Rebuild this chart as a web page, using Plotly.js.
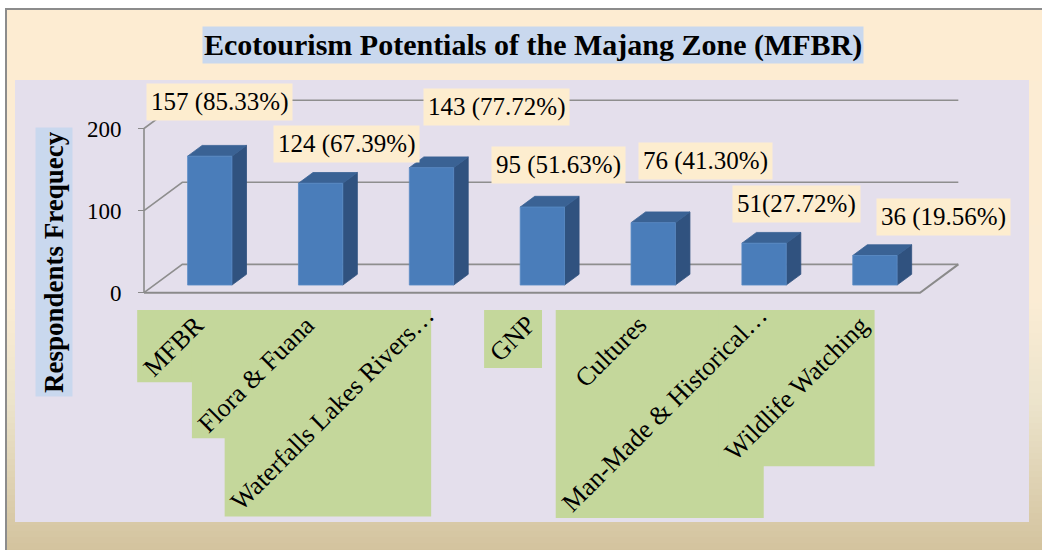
<!DOCTYPE html>
<html><head><meta charset="utf-8">
<script src="https://cdn.plot.ly/plotly-3.0.1.min.js"></script>
<style>html,body{margin:0;padding:0;background:#fff}</style>
</head><body><div id="chart" style="width:1042px;height:550px"></div>
<script>
// ---------- data ----------
const categories = ["MFBR", "Flora & Fuana", "Waterfalls Lakes Rivers…", "GNP", "Cultures", "Man-Made & Historical…", "Wildlife Watching"];
const frequencies = [157, 124, 143, 95, 76, 51, 36];
const labelTexts = ["157 (85.33%)", "124 (67.39%)", "143 (77.72%)", "95 (51.63%)", "76 (41.30%)", "51(27.72%)", "36 (19.56%)"];
const yTickValues = [0, 100, 200];
const chartTitle = "Ecotourism Potentials of the Majang Zone (MFBR)";
const yAxisTitle = "Respondents Frequecy";

// ---------- geometry / style (pixels) ----------
const W = 1042, H = 550;
const PXC = 110.86;          // px per category on the front plane
const PYU = 0.821;           // px per value unit
const frontLeft = 144, frontBottom = 292.7;
const plotL = 120, plotR = 1030, plotT = 78, plotB = 305;
const DXpx = 38.3, DYpx = 28.3;   // oblique depth of the floor
const F0 = 0.27, F1 = 0.65, HW = 0.2;
const SERIF = '"Liberation Serif", "Times New Roman", serif';
const CAT_FS = 26, LAB_FS = 25, TICK_FS = 23;
// manual nudges of the data labels (px, right / up) as placed in the original
const labelNudge = [[10, 54], [26, 39], [65, 61], [16, 42], [52, 62], [32, 39], [69, 39]];

const nCat = categories.length;
const xr = [-0.5 - (frontLeft - plotL) / PXC, -0.5 + (plotR - frontLeft) / PXC];
const yr = [-(plotB - frontBottom) / PYU, (frontBottom - plotT) / PYU];
const DX = DXpx / PXC, DY = DYpx / PYU;
const px = v => v / W, py = v => 1 - v / H;

// ---------- bar faces ----------
const front = {x: [], y: []}, topF = {x: [], y: []}, side = {x: [], y: []};
frequencies.forEach((v, i) => {
  const a = i - HW, b = i + HW;
  const ax = F0 * DX, ay = F0 * DY, bx = F1 * DX, by = F1 * DY;
  side.x.push(b + ax, b + bx, b + bx, b + ax, b + ax, null);
  side.y.push(ay, by, v + by, v + ay, ay, null);
  topF.x.push(a + ax, b + ax, b + bx, a + bx, a + ax, null);
  topF.y.push(v + ay, v + ay, v + by, v + by, v + ay, null);
  front.x.push(a + ax, b + ax, b + ax, a + ax, a + ax, null);
  front.y.push(ay, ay, v + ay, v + ay, ay, null);
});

// ---------- walls / gridlines ----------
const gx = [], gy = [];
yTickValues.forEach(v => { gx.push(-0.5, -0.5 + DX, nCat - 0.5 + DX, null); gy.push(v, v + DY, v + DY, null); });
const yMaxTick = Math.max(...yTickValues);

const traces = [
  {type: 'scatter', mode: 'lines', x: gx, y: gy, line: {color: '#8e8e8e', width: 1.6}, hoverinfo: 'skip'},
  {type: 'scatter', mode: 'lines', x: [-0.5, nCat - 0.5, nCat - 0.5 + DX], y: [0, 0, DY], line: {color: '#8a8a8a', width: 2}, hoverinfo: 'skip'},
  {type: 'scatter', mode: 'lines', x: [-0.5, -0.5], y: [0, yMaxTick], line: {color: '#8a8a8a', width: 1.6}, hoverinfo: 'skip'},
  {type: 'scatter', mode: 'lines', x: side.x, y: side.y, fill: 'toself', fillcolor: '#30527F', line: {color: '#30527F', width: 0.8}, hoverinfo: 'skip'},
  {type: 'scatter', mode: 'lines', x: topF.x, y: topF.y, fill: 'toself', fillcolor: '#3A6294', line: {color: '#3A6294', width: 0.8}, hoverinfo: 'skip'},
  {type: 'scatter', mode: 'lines', x: front.x, y: front.y, fill: 'toself', fillcolor: '#4A7DBA', line: {color: '#5B8BC5', width: 0.8}, hoverinfo: 'skip'}
];

// ---------- background shapes ----------
const shapes = [];
const stops = [[9, [253, 236, 210]], [300, [251, 236, 212]], [400, [236, 228, 204]], [550, [211, 195, 158]]];
function bg(y) {
  for (let k = 0; k < stops.length - 1; k++) {
    const [y0, c0] = stops[k], [y1, c1] = stops[k + 1];
    if (y <= y1) { const t = Math.max(0, (y - y0) / (y1 - y0)); return 'rgb(' + c0.map((c, j) => Math.round(c + (c1[j] - c) * t)).join(',') + ')'; }
  }
  return 'rgb(211,195,158)';
}
for (let y = 9; y < 550; y += 6) {
  shapes.push({type: 'rect', xref: 'paper', yref: 'paper', x0: px(6), x1: px(1042), y0: py(y), y1: py(Math.min(550, y + 6.5)), fillcolor: bg(y + 3), line: {width: 0}, layer: 'below'});
}
shapes.push({type: 'path', xref: 'paper', yref: 'paper', path: `M ${px(6)} ${py(550)} L ${px(6)} ${py(9)} L ${px(1042)} ${py(9)}`, line: {color: '#8c8c8c', width: 2}, layer: 'below'});
shapes.push({type: 'rect', xref: 'paper', yref: 'paper', x0: px(15), x1: px(1029), y0: py(522), y1: py(80), fillcolor: '#E4DFEC', line: {width: 0}, layer: 'below'});

// ---------- category labels (rotated, green bounding boxes) ----------
const ctx = document.createElement('canvas').getContext('2d');
ctx.font = CAT_FS + 'px ' + SERIF;
const annotations = [];
const catTop = 310;
categories.forEach((c, i) => {
  const L = ctx.measureText(c).width;
  const Lbox = c.endsWith('…') ? L - 0.5 * CAT_FS : L;   // ellipsis overhangs the box
  const w = (Lbox + 1.15 * CAT_FS) / Math.SQRT2;
  const right = frontLeft + PXC * (i + 0.5) + 10;
  const shift = (L - Lbox) / (2 * Math.SQRT2);
  shapes.push({type: 'rect', xref: 'paper', yref: 'paper', x0: px(right - w), x1: px(right), y0: py(catTop + w), y1: py(catTop), fillcolor: '#C4D79B', line: {width: 0}, layer: 'below'});
  annotations.push({xref: 'x', yref: 'paper', x: i + (10 - w / 2 + shift) / PXC, y: py(catTop + w / 2 - shift), text: c, showarrow: false, textangle: -45, xanchor: 'center', yanchor: 'middle', font: {family: SERIF, size: CAT_FS, color: '#000'}});
});

// ---------- data labels ----------
frequencies.forEach((v, i) => {
  annotations.push({xref: 'x', yref: 'y', x: i + F0 * DX, y: v + F0 * DY, xshift: labelNudge[i][0], yshift: labelNudge[i][1], text: labelTexts[i], showarrow: false, xanchor: 'center', yanchor: 'middle', bgcolor: '#FDEDCF', borderpad: 4, font: {family: SERIF, size: LAB_FS, color: '#000'}});
});

// ---------- titles ----------
annotations.push({xref: 'paper', yref: 'paper', x: px(533), y: py(45), text: '<b>' + chartTitle + '</b>', showarrow: false, xanchor: 'center', yanchor: 'middle', bgcolor: '#C9D8EE', borderpad: 1, font: {family: SERIF, size: 30, color: '#000'}});
annotations.push({xref: 'paper', yref: 'paper', x: px(54), y: py(262), text: '<b>' + yAxisTitle + '</b>', textangle: -90, showarrow: false, xanchor: 'center', yanchor: 'middle', bgcolor: '#C9D8EE', borderpad: 3, font: {family: SERIF, size: 27, color: '#000'}});

const layout = {
  width: W, height: H,
  margin: {l: 0, r: 0, t: 0, b: 0},
  paper_bgcolor: '#ffffff', plot_bgcolor: 'rgba(0,0,0,0)',
  showlegend: false,
  xaxis: {domain: [px(plotL), px(plotR)], range: xr, visible: false, fixedrange: true},
  yaxis: {domain: [py(plotB), py(plotT)], range: yr, anchor: 'free', position: px(frontLeft),
          tickvals: yTickValues, ticktext: yTickValues.map(String), ticks: 'outside', ticklen: 6, tickwidth: 1.5, tickcolor: '#8a8a8a',
          showgrid: false, zeroline: false, showline: false, ticklabelstandoff: 12,
          tickfont: {family: SERIF, size: TICK_FS, color: '#000'}, fixedrange: true},
  shapes: shapes,
  annotations: annotations
};
Plotly.newPlot('chart', traces, layout, {staticPlot: true, displayModeBar: false});
</script></body></html>
